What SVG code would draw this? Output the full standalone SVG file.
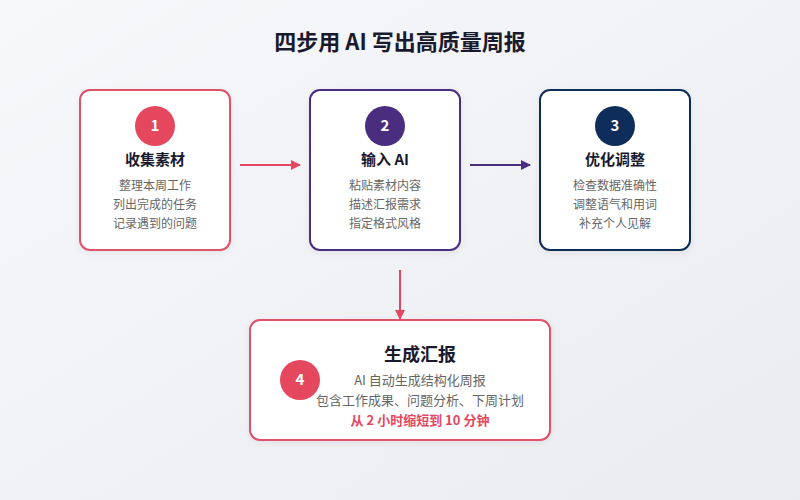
<svg xmlns="http://www.w3.org/2000/svg" width="800" height="500" viewBox="0 0 800 500">
<defs>
<linearGradient id="bg" x1="0" y1="0" x2="1" y2="1">
<stop offset="0" stop-color="#f7f8fa"/>
<stop offset="1" stop-color="#eaecf0"/>
</linearGradient>
<filter id="sh" x="-10%" y="-10%" width="120%" height="130%">
<feDropShadow dx="0" dy="2" stdDeviation="3" flood-color="#000" flood-opacity="0.06"/>
</filter>
<marker id="mr" viewBox="0 0 10 10" refX="9" refY="5" markerWidth="10" markerHeight="10" markerUnits="userSpaceOnUse" orient="auto"><path d="M0,0 L10,5 L0,10 z" fill="#e5475f"/></marker>
<marker id="mp" viewBox="0 0 10 10" refX="9" refY="5" markerWidth="10" markerHeight="10" markerUnits="userSpaceOnUse" orient="auto"><path d="M0,0 L10,5 L0,10 z" fill="#4b2d80"/></marker>
</defs>
<style>
text{font-family:"Noto Sans CJK SC","Noto Sans",sans-serif;text-anchor:middle}
.box{fill:#fff;stroke-width:2;filter:url(#sh)}
.num{fill:#fff;font-size:15px;font-weight:700}
.ttl{fill:#1a1a2e;font-size:15px;font-weight:700}
.dsc{fill:#666;font-size:12px}
.dsc4{fill:#666;font-size:13px}
.main{fill:#1a1a2e;font-size:22px;font-weight:700}
</style>
<rect width="800" height="500" fill="url(#bg)"/>
<text class="main" x="400" y="50">四步用 AI 写出高质量周报</text>
<g id="connectors" fill="none" stroke-width="2">
<line x1="240" y1="165" x2="300" y2="165" stroke="#e5475f" marker-end="url(#mr)"/>
<line x1="470" y1="165" x2="530" y2="165" stroke="#4b2d80" marker-end="url(#mp)"/>
<line x1="400" y1="270" x2="400" y2="319" stroke="#e5475f" marker-end="url(#mr)"/>
</g>
<g id="step1">
<rect class="box" x="80" y="90" width="150" height="160" rx="10" stroke="#e0516a"/>
<circle cx="155" cy="126" r="20" fill="#e5475f"/>
<text class="num" x="155" y="131">1</text>
<text class="ttl" x="155" y="165">收集素材</text>
<text class="dsc" x="155" y="190">整理本周工作</text>
<text class="dsc" x="155" y="209">列出完成的任务</text>
<text class="dsc" x="155" y="228">记录遇到的问题</text>
</g>
<g id="step2">
<rect class="box" x="310" y="90" width="150" height="160" rx="10" stroke="#4b2d80"/>
<circle cx="385" cy="126" r="20" fill="#4b2d80"/>
<text class="num" x="385" y="131">2</text>
<text class="ttl" x="385" y="165">输入 AI</text>
<text class="dsc" x="385" y="190">粘贴素材内容</text>
<text class="dsc" x="385" y="209">描述汇报需求</text>
<text class="dsc" x="385" y="228">指定格式风格</text>
</g>
<g id="step3">
<rect class="box" x="540" y="90" width="150" height="160" rx="10" stroke="#0f2d5a"/>
<circle cx="615" cy="126" r="20" fill="#0f2d5a"/>
<text class="num" x="615" y="131">3</text>
<text class="ttl" x="615" y="165">优化调整</text>
<text class="dsc" x="615" y="190">检查数据准确性</text>
<text class="dsc" x="615" y="209">调整语气和用词</text>
<text class="dsc" x="615" y="228">补充个人见解</text>
</g>
<g id="step4">
<rect class="box" x="250" y="320" width="300" height="120" rx="10" stroke="#e0516a"/>
<circle cx="300" cy="380" r="20" fill="#e5475f"/>
<text class="num" x="300" y="385">4</text>
<text class="ttl" x="420" y="361" style="font-size:18px">生成汇报</text>
<text class="dsc4" x="420" y="385">AI 自动生成结构化周报</text>
<text class="dsc4" x="420" y="405">包含工作成果、问题分析、下周计划</text>
<text class="dsc4" x="420" y="425" style="fill:#e5475f;font-weight:700">从 2 小时缩短到 10 分钟</text>
</g>
</svg>
